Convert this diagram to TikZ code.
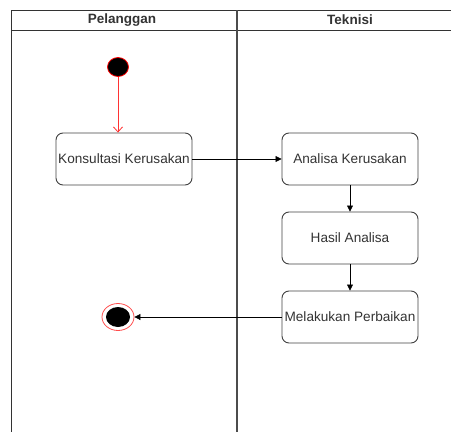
\documentclass[tikz,border=0pt]{standalone}
\usepackage{fontspec}
\setmainfont{Liberation Sans}
\usetikzlibrary{arrows.meta,shapes.geometric}
\begin{document}
\begin{tikzpicture}[x=1pt,y=-1pt,
  act/.style={draw=black!75, rounded corners=7pt, minimum width=136pt, minimum height=52pt, font=\fontsize{13.6}{15}\selectfont, text=black!80, inner sep=0pt, line width=0.9pt},
  flow/.style={-{Triangle[length=6pt,width=6pt]}, line width=0.7pt},
  lane/.style={line width=1pt, draw=black!80}]
\useasboundingbox (0,0) rectangle (451,432);
\draw[lane] (11,432) -- (11,10) -- (451,10);
\draw[lane] (11,30) -- (451,30);
\draw[line width=1.5pt, draw=black!70] (237,10) -- (237,432);
\node[font=\bfseries\fontsize{13.5}{15}\selectfont, text=black!80] (h1) at (122,20) {Pelanggan};
\node[font=\bfseries\fontsize{13.5}{15}\selectfont, text=black!80] (h2) at (350,20) {Teknisi};
\node[ellipse, fill=black, draw=red, line width=0.8pt, minimum width=21pt, minimum height=19pt, inner sep=0pt] (start) at (118,67) {};
\node[act] (k) at (124,159) {Konsultasi Kerusakan};
\node[act] (a) at (350,159) {Analisa Kerusakan};
\node[act] (h) at (350,238) {Hasil Analisa};
\node[act] (m) at (350,317) {Melakukan Perbaikan};
\node[ellipse, draw=red!70, line width=0.8pt, minimum width=32pt, minimum height=27pt, inner sep=0pt] (end) at (118,317) {};
\node[ellipse, fill=black, minimum width=24pt, minimum height=20pt, inner sep=0pt] (endin) at (118,317) {};
\draw[-{Straight Barb[length=5pt,width=9pt]}, draw=red!80, line width=0.8pt] (start) -- (start |- k.north);
\draw[flow] (k) -- (a);
\draw[flow] (a) -- (h);
\draw[flow] (h) -- (m);
\draw[flow] (m) -- (end);
\end{tikzpicture}
\end{document}
